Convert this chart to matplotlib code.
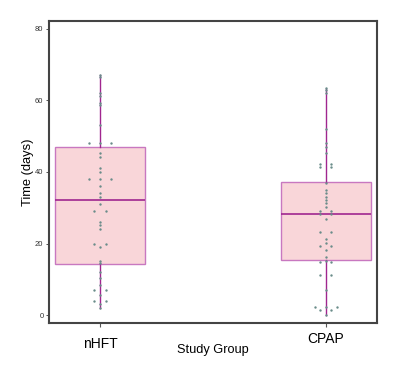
import numpy as np
import matplotlib
matplotlib.use("Agg")
import matplotlib.pyplot as plt

plt.rcParams["font.family"] = ["Liberation Sans", "DejaVu Sans"]

# Groups and box summaries
groups = ["nHFT", "CPAP"]
q1 = [14.2, 15.3]
median = [32.1, 28.2]
q3 = [47.0, 37.1]
whisker_lo = [1.9, 0.0]
whisker_hi = [67.1, 63.2]

# Individual observations (days), estimated from the dot columns
nhft_days = [67, 66.5, 62, 61.3, 59.4, 58.7, 53, 48, 48, 48, 45.2, 44.1,
             41, 40.1, 38, 38, 38, 36.1, 34, 33.1, 31, 29.1, 29.1, 26.1,
             25.2, 24, 20, 20, 19.1, 15.2, 14.7, 12.1, 10.3, 8.5, 7, 7,
             5.5, 4, 4, 3, 2]
cpap_days = [63.4, 62.9, 62.2, 51.9, 48.2, 47.1, 45.2, 42.2, 42.2, 41.3,
             41.3, 36.8, 35, 34, 33.1, 32.2, 31.3, 30.3, 29.2, 29.2, 28.3,
             28.3, 27, 23.3, 23.3, 21.2, 20.2, 19.3, 19.3, 18.2, 16.3, 15.2,
             14.9, 14.9, 11.2, 11.2, 7, 2.3, 2.3, 2.3, 1.4, 1.4, 0]
all_days = [nhft_days, cpap_days]

fig = plt.figure(figsize=(3.95, 3.71), dpi=100)
ax = fig.add_axes([0.124, 0.1294, 0.830, 0.8140])

stats = []
for i, g in enumerate(groups):
    stats.append(dict(label=g, med=median[i], q1=q1[i], q3=q3[i],
                      whislo=whisker_lo[i], whishi=whisker_hi[i], fliers=[]))

ax.bxp(stats, positions=[0, 1], widths=0.4, patch_artist=True, showcaps=False,
       boxprops=dict(facecolor="#f9d6d9", edgecolor="#c878c0", linewidth=1.0),
       medianprops=dict(color="#a0268f", linewidth=1.2),
       whiskerprops=dict(color="#a0268f", linewidth=1.0), zorder=2)

# stacked dots: equal values spread sideways
step = 0.05
for i, vals in enumerate(all_days):
    vals = np.array(vals)
    xs = np.zeros(len(vals))
    for v in np.unique(vals):
        idx = np.where(vals == v)[0]
        k = len(idx)
        xs[idx] = i + (np.arange(k) - (k - 1) / 2) * step
    ax.scatter(xs, vals, s=3, color="#6a8c8a", marker="o", linewidths=0, zorder=3)

ax.set_xlim(-0.226, 1.226)
ax.set_ylim(-2.2, 82.2)
ax.set_yticks([0, 20, 40, 60, 80])
ax.set_xticks([0, 1])
ax.set_xticklabels(groups)
ax.tick_params(axis="y", labelsize=5.5, length=2.5, width=0.6, colors="#333333", pad=1.5)
ax.tick_params(axis="x", labelsize=10, length=3, width=0.8, color="#555555", pad=3.5)
ax.xaxis.get_major_ticks()[0].set_pad(7)
for s in ax.spines.values():
    s.set_color("#444444")
    s.set_linewidth(1.5)

ax.set_xlabel("Study Group", fontsize=9.2, labelpad=-5)
ax.set_ylabel("Time (days)", fontsize=9.3, labelpad=1)

fig.savefig("out.png", dpi=100)
